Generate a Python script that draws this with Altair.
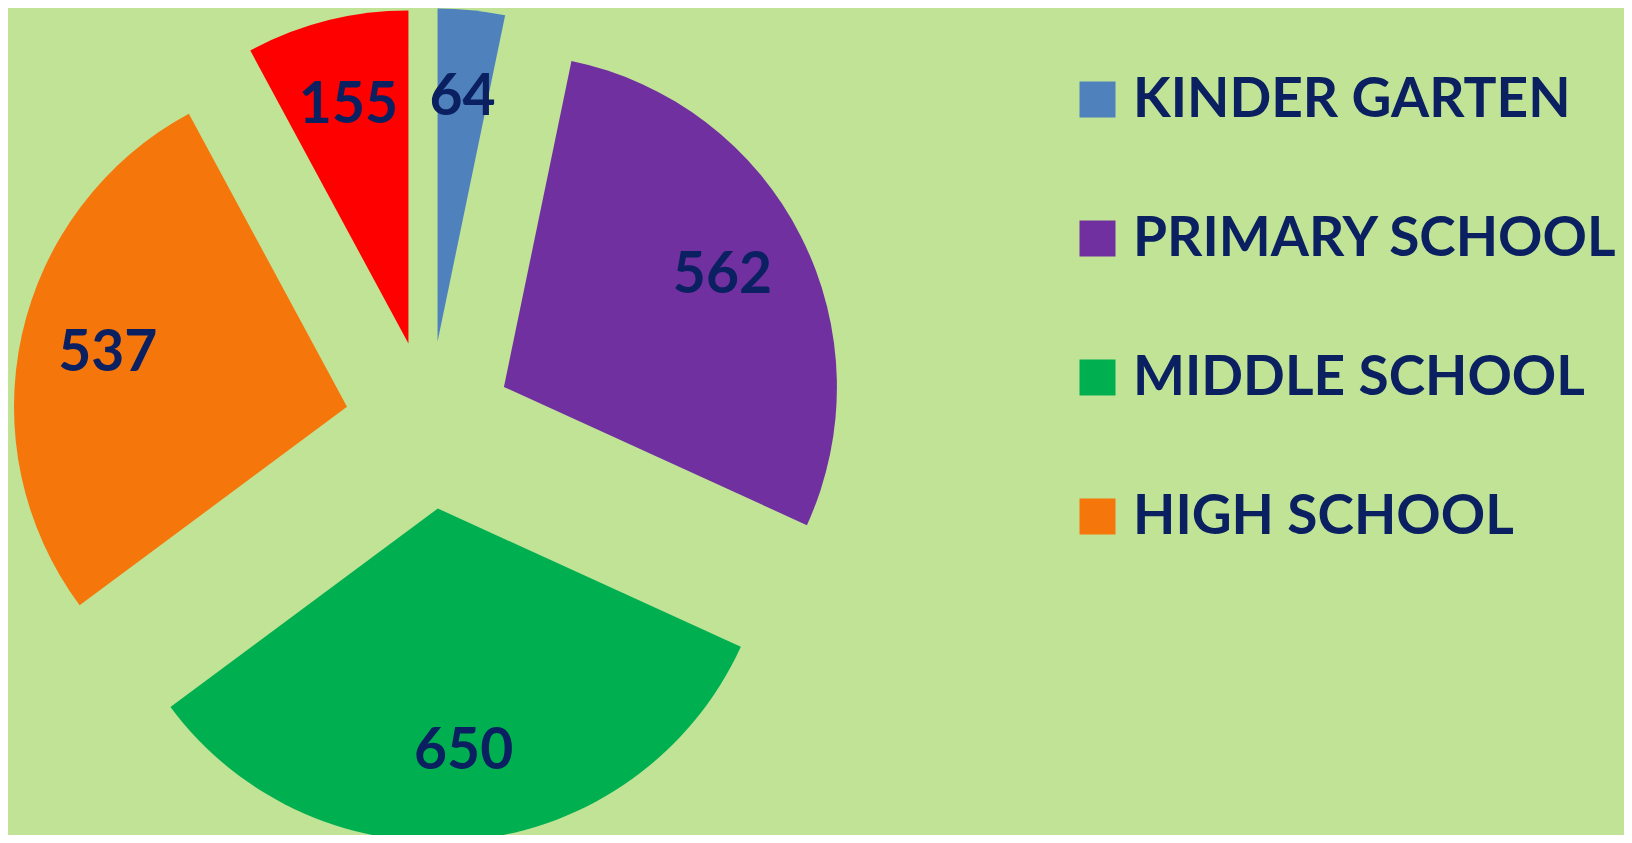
import altair as alt
import pandas as pd

# ---- data ----
categories = ["KINDER GARTEN", "PRIMARY SCHOOL", "MIDDLE SCHOOL", "HIGH SCHOOL", "COLLEGE"]
values = [64, 562, 650, 537, 155]
colors = ["#4F81BD", "#7030A0", "#00B050", "#F5760A", "#FF0000"]
legend_items = ["KINDER GARTEN", "PRIMARY SCHOOL", "MIDDLE SCHOOL", "HIGH SCHOOL"]

df = pd.DataFrame({"category": categories, "value": values, "order": list(range(len(values)))})

# ---- layout constants ----
CX, CY = 421, 417      # pie centre in plot pixels
R = 333                # outer radius
EXPLODE = 84           # slice explosion distance
LABEL_R = 245          # label distance from exploded apex
BG = "#C0E396"
TXT = "#0A2060"
FONT = "Lato"

base = (
    alt.Chart(df)
    .transform_window(cum="sum(value)", sort=[alt.SortField("order")], frame=[None, 0])
    .transform_joinaggregate(total="sum(value)")
    .transform_calculate(
        t0="2*PI*(datum.cum - datum.value)/datum.total",
        t1="2*PI*datum.cum/datum.total",
    )
    .transform_calculate(mid="(datum.t0 + datum.t1)/2")
    .transform_calculate(
        px=f"{CX} + {EXPLODE}*sin(datum.mid)",
        py=f"{CY} - {EXPLODE}*cos(datum.mid)",
        lx=f"{CX} + ({EXPLODE}+{LABEL_R})*sin(datum.mid)",
        ly=f"{CY} - ({EXPLODE}+{LABEL_R})*cos(datum.mid)",
    )
)

arcs = base.mark_arc(outerRadius=R, innerRadius=0).encode(
    x=alt.X("px:Q", scale=None),
    y=alt.Y("py:Q", scale=None),
    theta=alt.Theta("t0:Q", scale=None, stack=False),
    theta2="t1:Q",
    color=alt.Color(
        "category:N",
        scale=alt.Scale(domain=categories, range=colors),
        legend=alt.Legend(
            values=legend_items,
            orient="none",
            legendX=1062,
            legendY=64,
            title=None,
            symbolType="square",
            symbolSize=1296,
            symbolStrokeWidth=0,
            symbolOpacity=1,
            labelFont=FONT,
            labelFontSize=55,
            labelFontWeight="bold",
            labelColor=TXT,
            labelOffset=8,
            labelLimit=0,
            rowPadding=83,
            padding=0,
        ),
    ),
)

labels = base.mark_text(font=FONT, fontSize=57, fontWeight="bold", color=TXT).encode(
    x=alt.X("lx:Q", scale=None),
    y=alt.Y("ly:Q", scale=None),
    text=alt.Text("value:Q"),
)

chart = (
    alt.layer(arcs, labels)
    .properties(width=1616, height=827, autosize="none", padding=0, background=BG)
    .configure_view(stroke=None)
)

chart.save("out.html", embed_options={"renderer": "svg", "actions": False})
